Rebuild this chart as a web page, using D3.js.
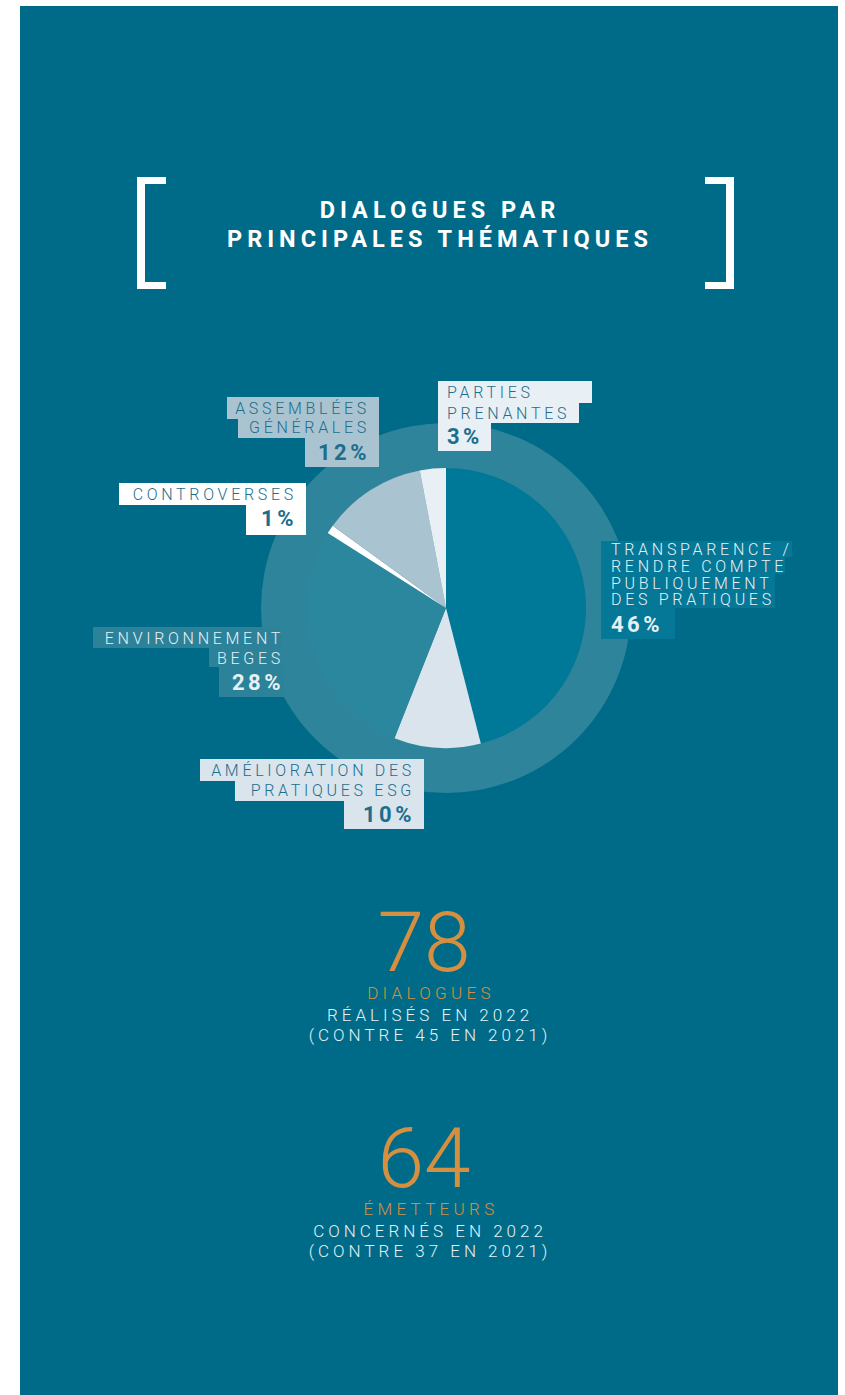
<!DOCTYPE html>
<html>
<head>
<meta charset="utf-8">
<script src="https://cdn.jsdelivr.net/npm/d3@7"></script>
<style>
body { margin: 0; background: #ffffff; }
svg { display: block; font-family: Roboto, "Noto Sans", sans-serif; }
</style>
</head>
<body>
<div id="chart"></div>
<script>
// data
var themes = ["Transparence / rendre compte publiquement des pratiques", "Amélioration des pratiques ESG",
  "Environnement BEGES", "Controverses", "Assemblées générales", "Parties prenantes"];
var shares = [46, 10, 28, 1, 12, 3];
var labelLines = [
  ["TRANSPARENCE /", "RENDRE COMPTE", "PUBLIQUEMENT", "DES PRATIQUES"],
  ["AMÉLIORATION DES", "PRATIQUES ESG"],
  ["ENVIRONNEMENT", "BEGES"],
  ["CONTROVERSES"],
  ["ASSEMBLÉES", "GÉNÉRALES"],
  ["PARTIES", "PRENANTES"]
];
var titleLines = ["DIALOGUES PAR", "PRINCIPALES THÉMATIQUES"];
var statValues = [78, 64];
var statUnits = ["DIALOGUES", "ÉMETTEURS"];
var statTexts = ["RÉALISÉS EN 2022", "CONCERNÉS EN 2022"];
var statPrevious = [45, 37];

// colours
var sliceColors = ["#007898", "#d9e4ec", "#2a879e", "#ffffff", "#a9c3d1", "#e9f0f5"];
var textColors  = ["#e6f1f5", "#1b6e8c", "#e6f1f5", "#1b6e8c", "#1b6e8c", "#1b6e8c"];
var boxColors   = ["#057797", "#d9e4ec", "#2b8299", "#ffffff", "#a9c3d1", "#e9f0f5"];

// label layout (text anchor, baselines, background boxes x0,x1,y0,y1)
var labelLayout = [
  {anchor: "start", tx: 611, ys: [555, 572, 588.5, 605], py: 632,
   boxes: [[601,792,541,557],[601,785,557,574],[601,775,574,590],[601,775,590,608],[601,675,608,639]]},
  {anchor: "end", tx: 415, ys: [776, 796], py: 822,
   boxes: [[200,424,759,781],[235,424,781,801],[344,424,801,829]]},
  {anchor: "end", tx: 284, ys: [644, 664], py: 690,
   boxes: [[93,281,627,648],[209,281,648,667],[219,284,667,697]]},
  {anchor: "end", tx: 297, ys: [500], py: 526,
   boxes: [[119,306,483,505],[246,306,505,535]]},
  {anchor: "end", tx: 370, ys: [414, 433], py: 460,
   boxes: [[227,379,397,419],[238,379,419,438],[305,379,438,467]]},
  {anchor: "start", tx: 447, ys: [398, 419], py: 444,
   boxes: [[438,592,381,403],[438,579,403,423],[438,491,423,451]]}
];

var W = 845, H = 1395;
var cx = 446, cy = 608, r = 140, ringR = 185;

var svg = d3.select("#chart").append("svg")
  .attr("width", W).attr("height", H);

// panel
svg.append("rect")
  .attr("x", 20).attr("y", 6).attr("width", 818).attr("height", H - 6)
  .attr("fill", "#006b88");

// title brackets
var bracket = svg.append("g").attr("fill", "#ffffff");
bracket.append("rect").attr("x", 137).attr("y", 177).attr("width", 8).attr("height", 112);
bracket.append("rect").attr("x", 137).attr("y", 177).attr("width", 29).attr("height", 7);
bracket.append("rect").attr("x", 137).attr("y", 282).attr("width", 29).attr("height", 7);
bracket.append("rect").attr("x", 726).attr("y", 177).attr("width", 8).attr("height", 112);
bracket.append("rect").attr("x", 705).attr("y", 177).attr("width", 29).attr("height", 7);
bracket.append("rect").attr("x", 705).attr("y", 282).attr("width", 29).attr("height", 7);

svg.append("g").selectAll("text")
  .data(titleLines)
  .enter()
  .append("text")
  .attr("x", 440)
  .attr("y", (d, i) => 218 + i * 29)
  .attr("text-anchor", "middle")
  .attr("font-size", "23.5px")
  .attr("font-weight", 700)
  .attr("letter-spacing", "5px")
  .attr("fill", "#ffffff")
  .text(d => d);

// ring behind the pie
svg.append("circle")
  .attr("cx", cx).attr("cy", cy).attr("r", ringR)
  .attr("fill", "#2e849b");

// pie
var pie = d3.pie().sort(null).value(d => d);
var arc = d3.arc().innerRadius(0).outerRadius(r);
var color = d3.scaleOrdinal().domain(themes).range(sliceColors);

var pieData = pie(shares);
svg.append("g")
  .attr("transform", "translate(" + cx + "," + cy + ")")
  .selectAll("path")
  .data(pieData)
  .enter()
  .append("path")
  .attr("d", arc)
  .attr("fill", (d, i) => color(themes[i]));

// labels
var labels = svg.append("g").selectAll("g")
  .data(themes)
  .enter()
  .append("g");

labels.each(function(t, i) {
  var g = d3.select(this);
  var L = labelLayout[i];
  L.boxes.forEach(function(b) {
    g.append("rect")
      .attr("x", b[0]).attr("y", b[2])
      .attr("width", b[1] - b[0]).attr("height", b[3] - b[2])
      .attr("fill", boxColors[i]);
  });
  labelLines[i].forEach(function(line, j) {
    g.append("text")
      .attr("x", L.tx).attr("y", L.ys[j])
      .attr("text-anchor", L.anchor)
      .attr("font-size", "16px")
      .attr("font-weight", 300)
      .attr("letter-spacing", "3.7px")
      .attr("fill", textColors[i])
      .text(line);
  });
  g.append("text")
    .attr("x", L.tx).attr("y", L.py)
    .attr("text-anchor", L.anchor)
    .attr("font-size", "22px")
    .attr("font-weight", 700)
    .attr("letter-spacing", "3.5px")
    .attr("fill", textColors[i])
    .text(Math.round(pieData[i].value) + "%");
});

// key figures
var stats = svg.append("g").selectAll("g")
  .data(statValues)
  .enter()
  .append("g")
  .attr("transform", (d, i) => "translate(0," + (i * 216) + ")");

stats.append("text")
  .attr("x", 424).attr("y", 971)
  .attr("text-anchor", "middle")
  .attr("font-size", "84px")
  .attr("font-weight", 300)
  .attr("fill", "#d68f3f")
  .text(d => d);

stats.append("text")
  .attr("x", 431).attr("y", 999)
  .attr("text-anchor", "middle")
  .attr("font-size", "17px")
  .attr("font-weight", 300)
  .attr("letter-spacing", "4.3px")
  .attr("fill", "#d68f3f")
  .text((d, i) => statUnits[i]);

stats.append("text")
  .attr("x", 430).attr("y", 1021)
  .attr("text-anchor", "middle")
  .attr("font-size", "17px")
  .attr("font-weight", 300)
  .attr("letter-spacing", "4px")
  .attr("fill", "#e6f1f5")
  .text((d, i) => statTexts[i]);

stats.append("text")
  .attr("x", 430).attr("y", 1041)
  .attr("text-anchor", "middle")
  .attr("font-size", "17px")
  .attr("font-weight", 300)
  .attr("letter-spacing", "4px")
  .attr("fill", "#e6f1f5")
  .text((d, i) => "(CONTRE " + statPrevious[i] + " EN 2021)");
</script>
</body>
</html>
